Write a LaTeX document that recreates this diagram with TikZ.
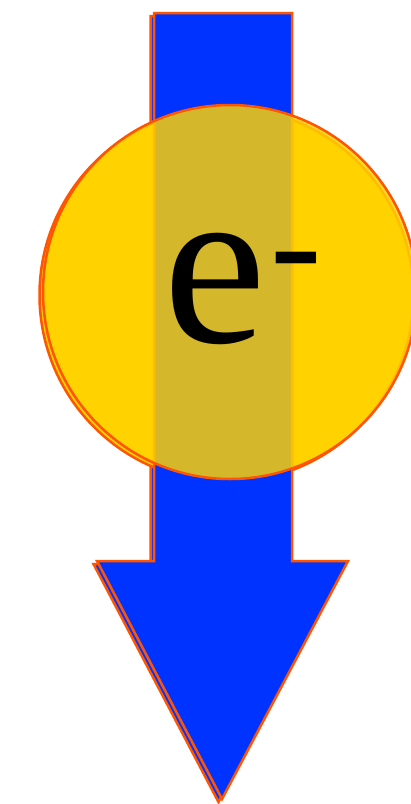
\documentclass[tikz,border=0pt]{standalone}
\usepackage{fontspec}
\setmainfont{Liberation Serif}
\definecolor{arrowblue}{HTML}{0033FF}
\definecolor{rimorange}{HTML}{FF5500}
\definecolor{ballyellow}{HTML}{FFD200}

\begin{document}
\begin{tikzpicture}[x=1pt,y=-1pt, rim/.style={draw=rimorange,line width=2.5pt,line join=miter},
  arrowbody/.style={rim,fill=arrowblue}, ball/.style={rim,fill=ballyellow}]
\useasboundingbox (0,0) rectangle (411,804);
% arrow shadow, ball shadow, then the front copies
\draw[arrowbody,shift={(-3.5,3)}] (154,13) -- (292,13) -- (292,561) -- (348,561) -- (222,799) -- (97,561) -- (154,561) -- cycle;
\draw[ball] (226.5,295) circle (187);
\draw[arrowbody] (154,13) -- (292,13) -- (292,561) -- (348,561) -- (222,799) -- (97,561) -- (154,561) -- cycle;
\draw[ball,fill opacity=0.83] (230,292) circle (187);
\node[anchor=base west,inner sep=0pt,font=\fontsize{232}{232}\selectfont] (e) at (163.5,342)
  {e\kern3.5pt\raisebox{48pt}{\fontsize{155}{155}\selectfont -}};
\end{tikzpicture}
\end{document}
